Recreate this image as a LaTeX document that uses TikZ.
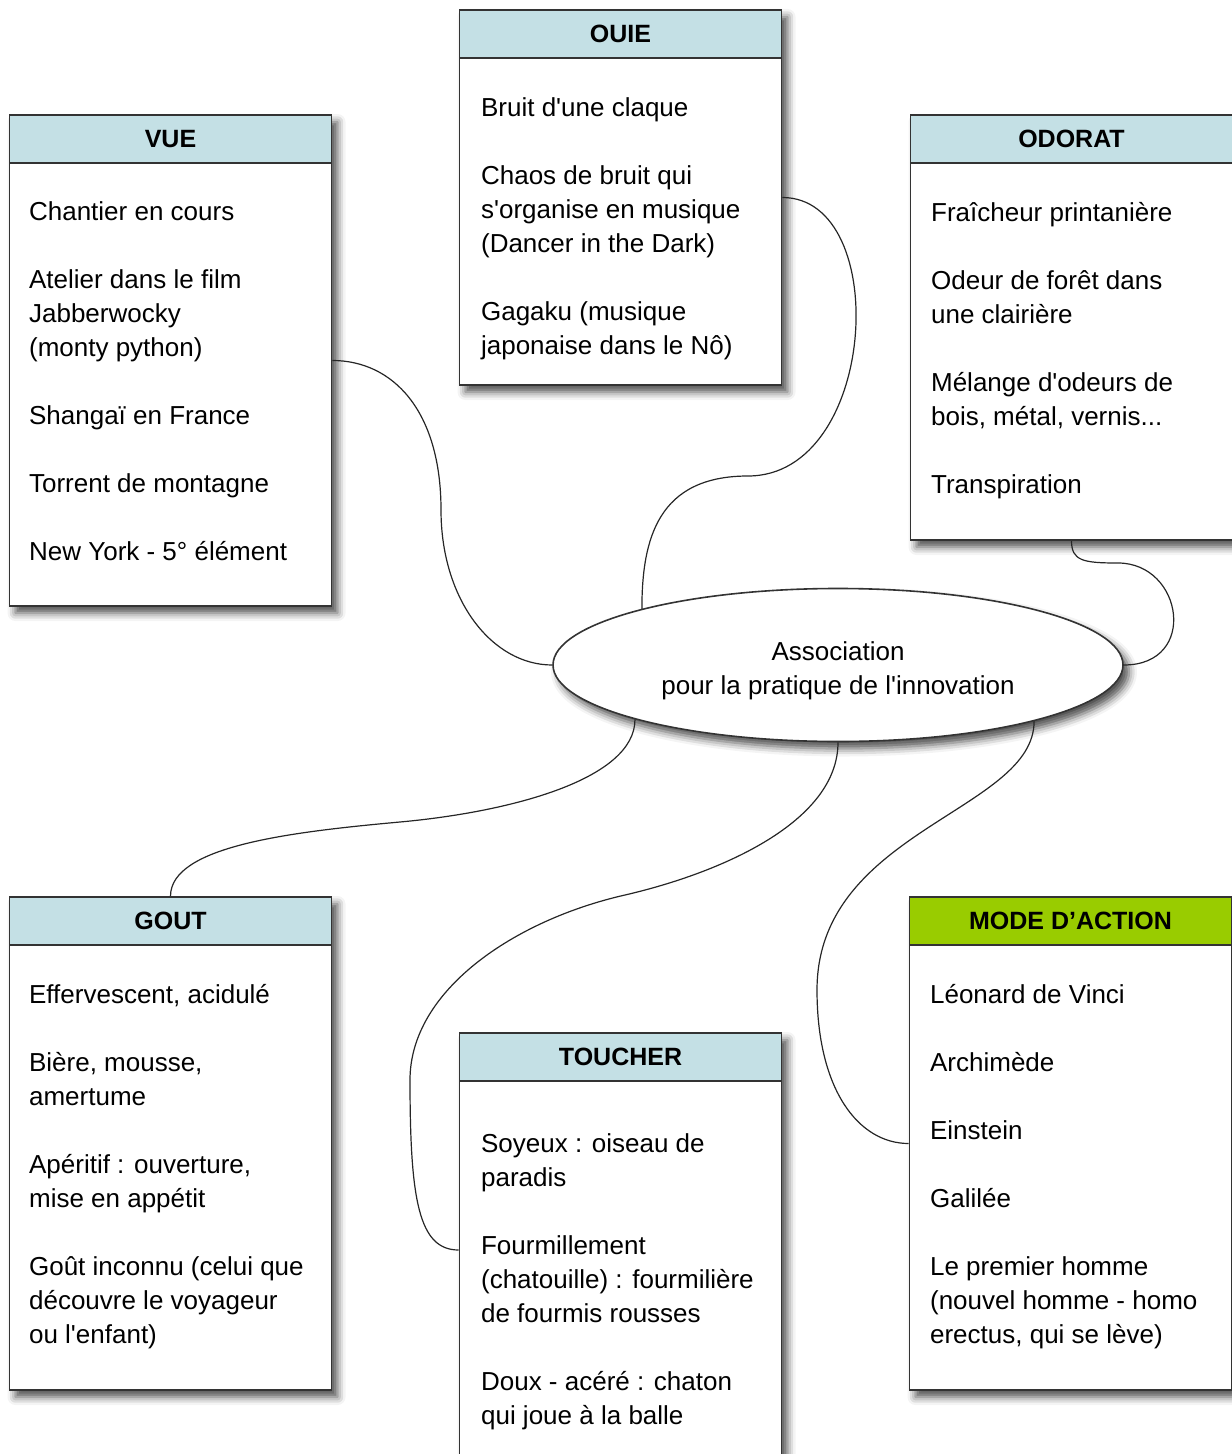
\documentclass[tikz,border=0pt]{standalone}
\usepackage{fontspec}
\setmainfont{Liberation Sans}
\usetikzlibrary{shapes.geometric, shadows.blur}
\definecolor{headblue}{RGB}{196,224,229}
\definecolor{headgreen}{RGB}{153,204,0}
\tikzset{
  boxshadow/.style={blur shadow={shadow xshift=3pt, shadow yshift=-3.5pt, shadow blur radius=4pt, shadow opacity=70}},
  sensbox/.style={draw=black!80, line width=0.8pt, fill=white, minimum width=161pt, inner sep=0pt, boxshadow},
  boxhead/.style={draw=black!80, line width=0.8pt, fill=headblue, minimum width=161pt, minimum height=24pt,
    anchor=north, inner sep=0pt, font=\fontsize{12.5}{15}\selectfont\bfseries},
  boxitems/.style={anchor=north west, inner sep=0pt, align=left, font=\fontsize{13}{17}\selectfont},
  link/.style={line width=0.6pt, draw=black!85},
}
\newcommand{\q}{\textquotesingle}

\begin{document}
\begin{tikzpicture}[x=0.5pt, y=-0.5pt]
\useasboundingbox (0,0) rectangle (1231,1454);

% centre
\node[ellipse, draw=black!80, line width=0.8pt, fill=white, minimum width=285pt, minimum height=76.5pt,
  inner sep=0pt, boxshadow] (assoc) at (838,665) {};
\node[align=center, font=\fontsize{13}{17}\selectfont] (assoclabel) at ([yshift=-3pt]assoc.center)
  {Association\\pour la pratique de l\q innovation};

% sens
\node[sensbox, minimum height=245.5pt] (vue) at (170.5,360.5) {};
\node[boxhead] (vuehead) at (vue.north) {VUE};
\node[boxitems] (vueitems) at ([xshift=10pt, yshift=-18.5pt]vuehead.south west)
  {Chantier en cours\\[17pt]Atelier dans le film\\Jabberwocky\\(monty python)\\[17pt]Shangaï en France\\[17pt]Torrent de montagne\\[17pt]New York - 5° élément};

\node[sensbox, minimum height=187.5pt] (ouie) at (620.5,197.5) {};
\node[boxhead] (ouiehead) at (ouie.north) {OUIE};
\node[boxitems] (ouieitems) at ([xshift=11pt, yshift=-19pt]ouiehead.south west)
  {Bruit d\q une claque\\[17pt]Chaos de bruit qui\\s\q organise en musique\\(Dancer in the Dark)\\[17pt]Gagaku (musique\\japonaise dans le Nô)};

\node[sensbox, minimum height=212.5pt] (odorat) at (1071.5,327.5) {};
\node[boxhead] (odorathead) at (odorat.north) {ODORAT};
\node[boxitems] (odoratitems) at ([xshift=10.5pt, yshift=-19pt]odorathead.south west)
  {Fraîcheur printanière\\[17pt]Odeur de forêt dans\\une clairière\\[17pt]Mélange d\q odeurs de\\bois, métal, vernis...\\[17pt]Transpiration};

\node[sensbox, minimum height=246.5pt] (gout) at (170.5,1143.5) {};
\node[boxhead] (gouthead) at (gout.north) {GOUT};
\node[boxitems] (goutitems) at ([xshift=10pt, yshift=-19pt]gouthead.south west)
  {Effervescent, acidulé\\[17pt]Bière, mousse,\\amertume\\[17pt]Apéritif : ouverture,\\mise en appétit\\[17pt]Goût inconnu (celui que\\découvre le voyageur\\ou l\q enfant)};

\node[sensbox, minimum height=217pt] (toucher) at (620.5,1250) {};
\node[boxhead] (toucherhead) at (toucher.north) {TOUCHER};
\node[boxitems] (toucheritems) at ([xshift=11pt, yshift=-25.5pt]toucherhead.south west)
  {Soyeux : oiseau de\\paradis\\[17pt]Fourmillement\\(chatouille) : fourmilière\\de fourmis rousses\\[17pt]Doux - acéré : chaton\\qui joue à la balle};

\node[sensbox, minimum height=246.5pt] (mode) at (1070.5,1143.5) {};
\node[boxhead, fill=headgreen] (modehead) at (mode.north) {MODE D’ACTION};
\node[boxitems] (modeitems) at ([xshift=10.5pt, yshift=-19pt]modehead.south west)
  {Léonard de Vinci\\[17pt]Archimède\\[17pt]Einstein\\[17pt]Galilée\\[17pt]Le premier homme\\(nouvel homme - homo\\erectus, qui se lève)};

% liens
\coordinate (vuebend) at (441,510);
\coordinate (ouiebend) at (748,476);
\coordinate (odoratbend) at (1118,563);
\coordinate (goutbend) at (400,822);
\coordinate (touchermid) at (625,895);
\coordinate (toucherbend) at (410,1080);
\coordinate (modebend) at (817,990);
\draw[link] (vue.east) .. controls +(60,0) and +(0,-100) .. (vuebend)
  .. controls +(0,90) and +(-60,0) .. (assoc.west);
\draw[link] (ouie.east) .. controls +(110,0) and +(130,0) .. (ouiebend)
  .. controls +(-90,0) and +(0,-70) .. (assoc.164.6);
\draw[link] (odorat.south) .. controls +(0,20) and +(-35,0) .. (odoratbend)
  .. controls +(65,0) and +(75,0) .. (assoc.east);
\draw[link] (assoc.195.4) .. controls +(0,60) and +(110,-10) .. (goutbend)
  .. controls +(-110,10) and +(0,-50) .. (gout.north);
\draw[link] (assoc.south) .. controls +(0,80) and +(95,-22) .. (touchermid)
  .. controls +(-110,25) and +(0,-90) .. (toucherbend)
  .. controls +(0,120) and +(-40,0) .. (toucher.west);
\draw[link] (assoc.344.8) .. controls +(0,90) and +(0,-160) .. (modebend)
  .. controls +(0,100) and +(-50,0) .. (mode.west);
\end{tikzpicture}
\end{document}
